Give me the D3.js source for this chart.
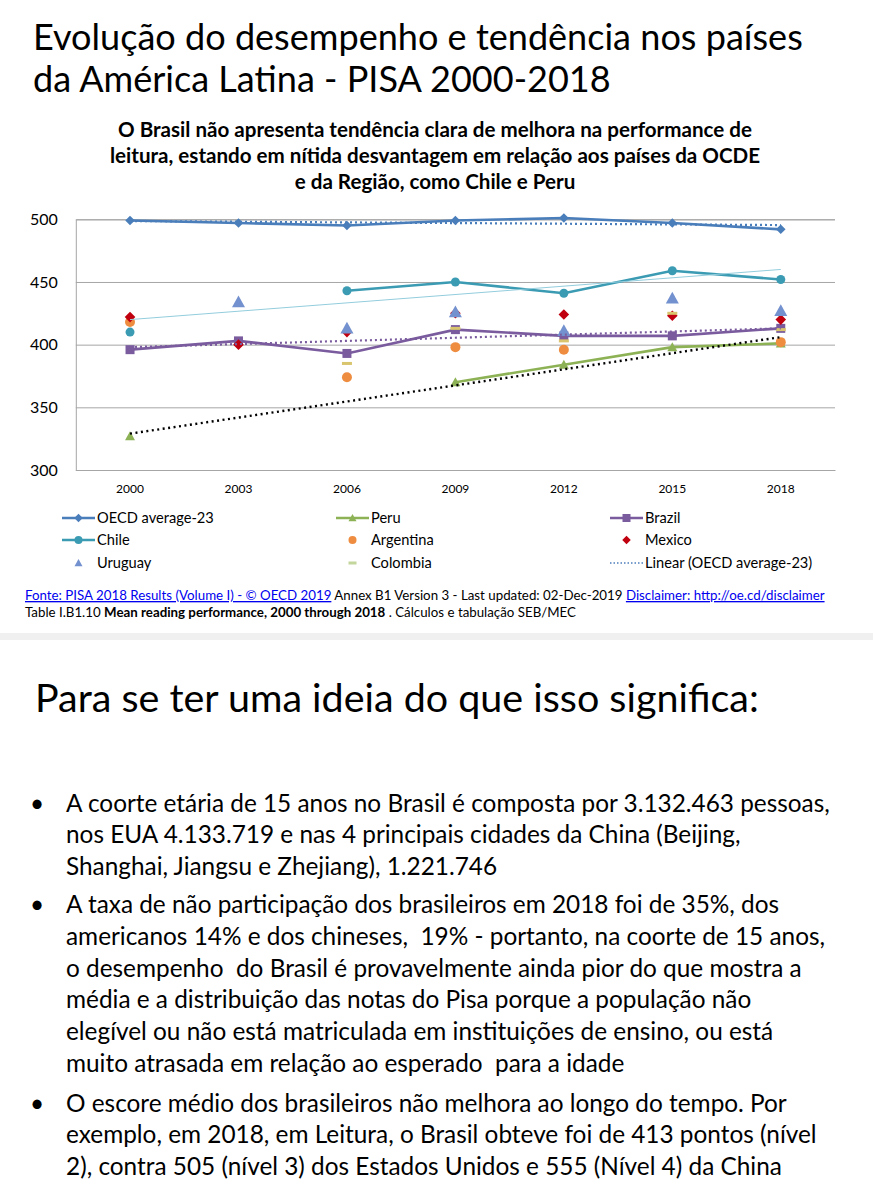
<!DOCTYPE html>
<html>
<head>
<meta charset="utf-8">
<script src="https://cdn.jsdelivr.net/npm/d3@7"></script>
<style>
  body { margin: 0; background: white; }
  text { font-family: Lato, "Open Sans", sans-serif; }
</style>
</head>
<body>
<script>
//DATA (PISA READING MEAN SCORES)
var years = [2000, 2003, 2006, 2009, 2012, 2015, 2018];
var oecd      = [499, 497, 495, 499, 501, 497, 492];
var chile     = [410, null, 443, 450, 441, 459, 452];
var uruguay   = [null, 434, 413, 426, 411, 437, 427];
var peru      = [327, null, null, 370, 384, 398, 401];
var argentina = [418, null, 374, 398, 396, null, 402];
var colombia  = [null, null, 385, 413, 403, 425, 412];
var brazil    = [396, 403, 393, 412, 407, 407, 413];
var mexico    = [422, 400, 410, 425, 424, 423, 420];

//TREND LINES (VALUE AT 2000 AND AT 2018)
var trendOECD   = [498.6, 495.4];
var trendBrazil = [398, 413];
var trendPeru   = [329, 406];
var trendChile  = [420, 460];

var yTicks = [300, 350, 400, 450, 500];

var titleLines = ["Evolução do desempenho e tendência nos países", "da América Latina - PISA 2000-2018"];
var subLines = ["O Brasil não apresenta tendência clara de melhora na performance de",
                "leitura, estando em nítida desvantagem em relação aos países da OCDE",
                "e da Região, como Chile e Peru"];
var bullets = [
  ["A coorte etária de 15 anos no Brasil é composta por 3.132.463 pessoas,",
   "nos EUA 4.133.719 e nas 4 principais cidades da China (Beijing,",
   "Shanghai, Jiangsu e Zhejiang), 1.221.746"],
  ["A taxa de não participação dos brasileiros em 2018 foi de 35%, dos",
   "americanos 14% e dos chineses,  19% - portanto, na coorte de 15 anos,",
   "o desempenho  do Brasil é provavelmente ainda pior do que mostra a",
   "média e a distribuição das notas do Pisa porque a população não",
   "elegível ou não está matriculada em instituições de ensino, ou está",
   "muito atrasada em relação ao esperado  para a idade"],
  ["O escore médio dos brasileiros não melhora ao longo do tempo. Por",
   "exemplo, em 2018, em Leitura, o Brasil obteve foi de 413 pontos (nível",
   "2), contra 505 (nível 3) dos Estados Unidos e 555 (Nível 4) da China"]
];

var w = 873, h = 1200;
const svg = d3.select("body").append("svg").attr("width", w).attr("height", h);

//HELPER: SCALE FONT SO A LINE TAKES THE WIDTH IT HAS IN THE PICTURE
function fitSize(sel, width) {
  var len = sel.node().getComputedTextLength();
  var fs = parseFloat(sel.attr("font-size"));
  return fs * width / len;
}

//TITLE
var t1 = svg.append("text").attr("x", 33).attr("y", 50).attr("font-size", 40).text(titleLines[0]);
var tfs = fitSize(t1, 770);
t1.attr("font-size", tfs);
svg.append("text").attr("x", 33).attr("y", 92).attr("font-size", tfs).text(titleLines[1]);

//CHART SUBTITLE
var subs = svg.selectAll(".sub").data(subLines).enter().append("text")
  .attr("class", "sub").attr("x", 435).attr("y", function (d, i) { return [137, 163, 189][i]; })
  .attr("text-anchor", "middle").attr("font-weight", "bold").attr("font-size", 17)
  .text(function (d) { return d; });
var sfs = fitSize(d3.select(subs.nodes()[0]), 634);
subs.attr("font-size", sfs);

//SCALES
var Xscale = d3.scaleBand().domain(years).range([75.8, 835]).padding(0);
function xPos(yr) { return Xscale(yr) + Xscale.bandwidth() / 2; }
var Yscale = d3.scaleLinear().domain([300, 500]).range([470, 219.3]);

//GRID AND AXES
var yAxis = d3.axisLeft(Yscale).tickValues(yTicks).tickSize(-(835 - 75.8)).tickPadding(18);
var gy = svg.append("g").attr("transform", "translate(75.8,0)").call(yAxis);
gy.select(".domain").attr("stroke", "#a6a6a6");
gy.selectAll(".tick line").attr("stroke", "#a6a6a6");
gy.selectAll(".tick text").attr("font-size", 16).attr("fill", "#000").style("font-family", "Lato, sans-serif");

var xAxis = d3.axisBottom(Xscale).tickSize(0).tickPadding(14);
var gx = svg.append("g").attr("transform", "translate(0,470)").call(xAxis);
gx.select(".domain").attr("stroke", "#a6a6a6");
gx.selectAll(".tick text").attr("font-size", 12).attr("fill", "#000").style("font-family", "Lato, sans-serif");

//SERIES
var series = [
  { name: "OECD average-23", vals: oecd, color: "#4a7ebb", mark: "diamond", size: 9, line: true },
  { name: "Peru", vals: peru, color: "#8db255", mark: "triangle", size: 10, line: true },
  { name: "Brazil", vals: brazil, color: "#7a5b9e", mark: "square", size: 9, line: true },
  { name: "Chile", vals: chile, color: "#3b9bb3", mark: "circle", size: 9, line: true },
  { name: "Argentina", vals: argentina, color: "#ee8c3f", mark: "circle", size: 10, line: false },
  { name: "Mexico", vals: mexico, color: "#c0000f", mark: "diamond", size: 10, line: false },
  { name: "Uruguay", vals: uruguay, color: "#7391cf", mark: "triangle", size: 13, line: false },
  { name: "Colombia", vals: colombia, color: "#d8c56d", mark: "dash", size: 10, line: false }
];

function drawMarker(g, s, x, y) {
  var r = s.size / 2;
  if (s.mark == "diamond") {
    g.append("rect").attr("x", -r * 0.75).attr("y", -r * 0.75).attr("width", r * 1.5).attr("height", r * 1.5)
      .attr("fill", s.color).attr("transform", "translate(" + x + "," + y + ") rotate(45)");
  } else if (s.mark == "square") {
    g.append("rect").attr("x", x - r).attr("y", y - r).attr("width", 2 * r).attr("height", 2 * r).attr("fill", s.color);
  } else if (s.mark == "circle") {
    g.append("circle").attr("cx", x).attr("cy", y).attr("r", r).attr("fill", s.color);
  } else if (s.mark == "triangle") {
    g.append("path").attr("d", "M" + x + "," + (y - r) + "L" + (x + r) + "," + (y + r * 0.8) + "L" + (x - r) + "," + (y + r * 0.8) + "Z")
      .attr("fill", s.color);
  } else if (s.mark == "dash") {
    g.append("rect").attr("x", x - r).attr("y", y - 1.5).attr("width", 2 * r).attr("height", 3).attr("fill", s.color);
  }
}

var line = d3.line().defined(function (d) { return d != null; })
  .x(function (d, i) { return xPos(years[i]); }).y(function (d) { return Yscale(d); });

var plot = svg.append("g");
series.forEach(function (s) {
  if (s.line) {
    plot.append("path").datum(s.vals).attr("d", line).attr("fill", "none")
      .attr("stroke", s.color).attr("stroke-width", 2.6);
  }
  s.vals.forEach(function (v, i) {
    if (v != null) drawMarker(plot, s, xPos(years[i]), Yscale(v));
  });
});

//TREND LINES
var trends = [
  { vals: trendChile, color: "#93cddd", width: 1, dash: null },
  { vals: trendOECD, color: "#4a7ebb", width: 2.2, dash: "2,3" },
  { vals: trendBrazil, color: "#7a5b9e", width: 2.2, dash: "2,3" },
  { vals: trendPeru, color: "#000", width: 2.4, dash: "2,3.5" }
];
trends.forEach(function (t) {
  plot.append("line")
    .attr("x1", xPos(years[0])).attr("y1", Yscale(t.vals[0]))
    .attr("x2", xPos(years[years.length - 1])).attr("y2", Yscale(t.vals[1]))
    .attr("stroke", t.color).attr("stroke-width", t.width)
    .attr("stroke-dasharray", t.dash);
});

//LEGEND (ROW BY ROW, THREE COLUMNS)
var legendItems = series.concat([{ name: "Linear (OECD average-23)", color: "#4a7ebb", mark: "trend", line: false }]);
var colX = [62, 336, 610];
var rowY = [518, 540, 563];
var legend = svg.append("g");
var legendTexts = [];
legendItems.forEach(function (s, i) {
  var cx = colX[i % 3], cy = rowY[Math.floor(i / 3)];
  if (s.line) {
    legend.append("line").attr("x1", cx).attr("x2", cx + 33).attr("y1", cy).attr("y2", cy)
      .attr("stroke", s.color).attr("stroke-width", 2.6);
  }
  if (s.mark == "trend") {
    legend.append("line").attr("x1", cx).attr("x2", cx + 33).attr("y1", cy).attr("y2", cy)
      .attr("stroke", s.color).attr("stroke-width", 1.5).attr("stroke-dasharray", "1.5,2");
  } else {
    var small = Object.assign({}, s, { size: 8 });
    if (s.name == "Colombia") small.color = "#c3d69b";
    drawMarker(legend, small, cx + 16.5, cy);
  }
  legendTexts.push(legend.append("text").attr("x", cx + 35).attr("y", cy + 5).attr("font-size", 15).text(s.name));
});
var lfs = fitSize(legendTexts[0], 117);
legendTexts.forEach(function (t) { t.attr("font-size", lfs); });

//SOURCE NOTE
var note1 = svg.append("text").attr("x", 25).attr("y", 600).attr("font-size", 12);
note1.append("tspan").attr("fill", "#0000ee").style("text-decoration", "underline")
  .text("Fonte: PISA 2018 Results (Volume I) - © OECD 2019");
note1.append("tspan").text(" Annex B1 Version 3 - Last updated: 02-Dec-2019 ");
note1.append("tspan").attr("fill", "#0000ee").style("text-decoration", "underline")
  .text("Disclaimer: http://oe.cd/disclaimer");
var nfs = fitSize(note1, 800);
note1.attr("font-size", nfs);
var note2 = svg.append("text").attr("x", 25).attr("y", 617).attr("font-size", nfs);
note2.append("tspan").text("Table I.B1.10 ");
note2.append("tspan").attr("font-weight", "bold").text("Mean reading performance, 2000 through 2018");
note2.append("tspan").text(" . Cálculos e tabulação SEB/MEC");

//SLIDE SEPARATOR
svg.append("rect").attr("x", 0).attr("y", 633).attr("width", w).attr("height", 7).attr("fill", "#f0f0f0");

//SECOND SLIDE
var p1 = svg.append("text").attr("x", 35).attr("y", 712).attr("font-size", 40).text("Para se ter uma ideia do que isso significa:");
p1.attr("font-size", fitSize(p1, 724));

var bulletBase = [[812, 843, 875], [913, 945, 977, 1008, 1040, 1072], [1112, 1143, 1175]];
var first = svg.append("text").attr("x", 66).attr("y", bulletBase[0][0]).attr("font-size", 22).text(bullets[0][0]);
var bfs = fitSize(first, 764);
first.remove();
bullets.forEach(function (b, i) {
  svg.append("text").attr("x", 37).attr("y", bulletBase[i][0]).attr("text-anchor", "middle").attr("font-size", bfs).text("•");
  b.forEach(function (l, j) {
    svg.append("text").attr("x", 66).attr("y", bulletBase[i][j]).attr("font-size", bfs).attr("xml:space", "preserve").text(l);
  });
});
</script>
</body>
</html>
